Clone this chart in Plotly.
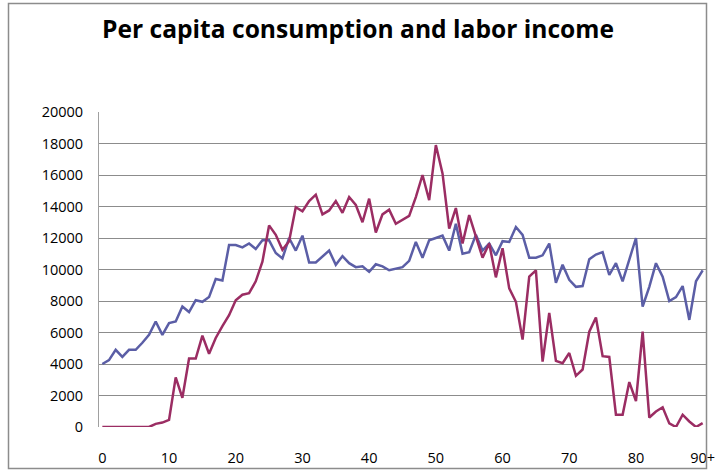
import plotly.graph_objects as go

ages = list(range(0, 91))
tick_vals = [0, 10, 20, 30, 40, 50, 60, 70, 80, 90]
tick_text = ["0", "10", "20", "30", "40", "50", "60", "70", "80", "90+"]

consumption = [
    4000, 4250, 4900, 4450, 4900, 4900, 5350, 5850, 6700, 5850,
    6600, 6700, 7650, 7300, 8050, 7950, 8250, 9400, 9300, 11550,
    11550, 11400, 11650, 11300, 11850, 11850, 11050, 10700, 12000, 11200,
    12150, 10450, 10450, 10850, 11200, 10300, 10850, 10400, 10150, 10200,
    9850, 10330, 10200, 9950, 10050, 10150, 10550, 11750, 10750, 11850,
    12000, 12150, 11200, 12900, 11000, 11100, 12200, 11200, 11650, 10900,
    11800, 11750, 12700, 12200, 10750, 10750, 10900, 11650, 9150, 10300,
    9350, 8900, 8950, 10650, 10950, 11100, 9650, 10400, 9250, 10600,
    12000, 7650, 8900, 10400, 9550, 8000, 8250, 8950, 6800, 9250,
    9950,
]

labor_income = [
    0, 0, 0, 0, 0, 0, 0, 0, 200, 280,
    450, 3150, 1850, 4350, 4350, 5800, 4650, 5650, 6400, 7100,
    8050, 8400, 8500, 9250, 10500, 12800, 12200, 11250, 11800, 13950,
    13700, 14350, 14750, 13500, 13750, 14350, 13600, 14600, 14100, 13000,
    14500, 12350, 13500, 13800, 12900, 13150, 13400, 14600, 16000, 14400,
    17900, 16100, 12600, 13900, 11650, 13450, 12150, 10750, 11650, 9500,
    11350, 8800, 7950, 5550, 9550, 9950, 4150, 7250, 4200, 4050,
    4700, 3250, 3650, 6050, 6950, 4500, 4450, 780, 780, 2850,
    1650, 6050, 600, 980, 1250, 230, 0, 780, 350, 0,
    250,
]

fig = go.Figure()
fig.add_trace(go.Scatter(x=ages, y=consumption, mode="lines", name="Consumption",
                         line=dict(color="#5B5EA6", width=2.5)))
fig.add_trace(go.Scatter(x=ages, y=labor_income, mode="lines", name="Labor income",
                         line=dict(color="#9B2D63", width=2.5)))

L, R, T, B = 99, 10, 112, 43
W, H = 716, 470
pw, ph = W - L - R, H - T - B

fig.update_layout(
    width=W, height=H,
    margin=dict(l=L, r=R, t=T, b=B, autoexpand=False),
    paper_bgcolor="white", plot_bgcolor="white",
    showlegend=False,
    font=dict(family="Open Sans, sans-serif", size=14.5, color="black"),
    title=dict(text="<b>Per capita consumption and labor income</b>",
               x=0.5, xanchor="center", y=0.938, yanchor="middle",
               font=dict(family="Open Sans, sans-serif", size=24.6, color="black")),
    xaxis=dict(range=[-0.5, 90.5], tickvals=tick_vals, ticktext=tick_text,
               showgrid=False, zeroline=False, showline=False, automargin=False,
               ticks="", ticklabelstandoff=20),
    yaxis=dict(range=[0, 20000], dtick=2000, tickformat="d", showgrid=True,
               gridcolor="#8c8c8c", gridwidth=1, zeroline=False, showline=True,
               linecolor="#a0a0a0", linewidth=1, ticks="", ticklabelstandoff=12,
               automargin=False),
    shapes=[
        dict(type="rect", xref="paper", yref="paper",
             x0=(8.5 - L) / pw, x1=(706.5 - L) / pw,
             y0=(H - B - 468.5) / ph, y1=(H - B - 3.5) / ph,
             line=dict(color="#8c8c8c", width=1.5), fillcolor="rgba(0,0,0,0)",
             layer="above"),
    ],
)

fig.write_html("out.html", config={"displayModeBar": False},
               post_script="document.body.style.margin='0';")
